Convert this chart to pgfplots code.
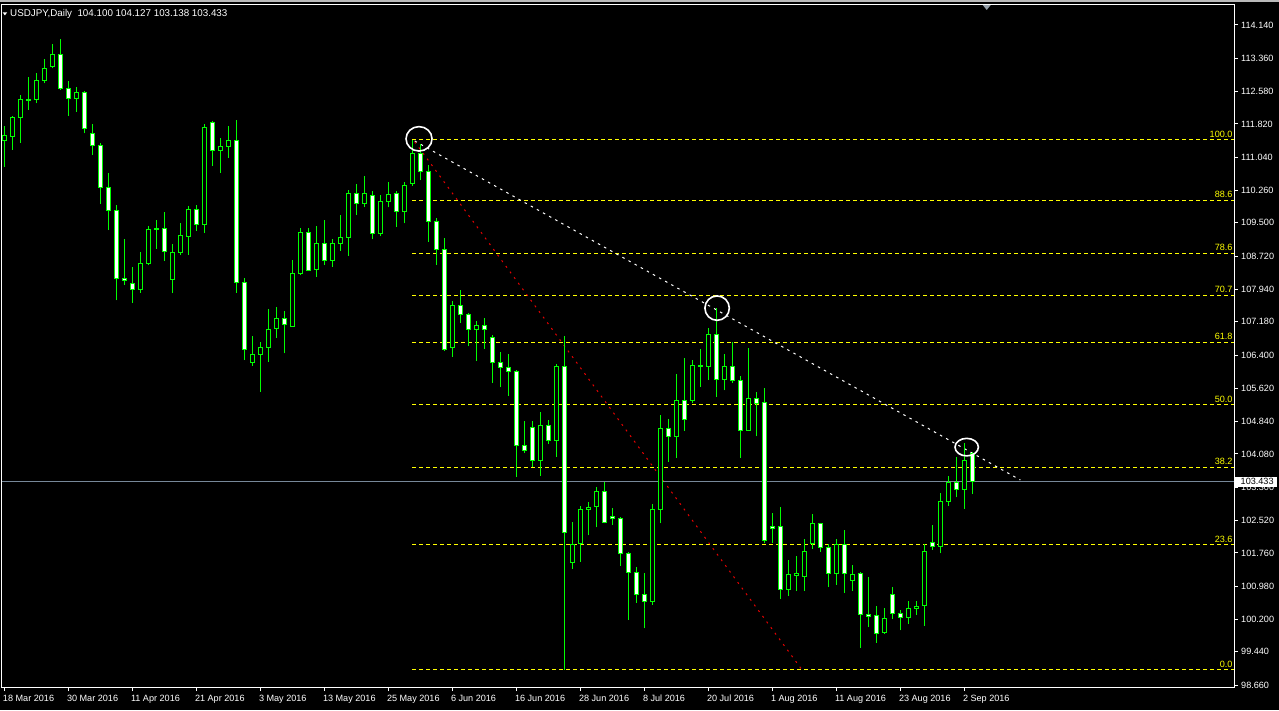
\documentclass[border=0pt]{standalone}
\usepackage{pgfplots}
\pgfplotsset{compat=1.18}
\usepackage{pgfplotstable}
\usepackage{fontspec}
\setmainfont{Liberation Sans}

\definecolor{candle}{RGB}{0,255,0}
\definecolor{bidline}{RGB}{119,136,153}
\definecolor{fibyellow}{RGB}{255,255,0}
\definecolor{markergray}{RGB}{150,160,170}
\definecolor{trendred}{RGB}{230,0,0}

% USDJPY daily bars: index, open, high, low, close
\pgfplotstableread{
i O H L C
0 111.44 111.77 110.82 111.55
1 111.52 112.01 111.21 111.98
2 111.98 112.50 111.38 112.40
3 112.38 112.91 112.15 112.39
4 112.40 113.01 112.30 112.84
5 112.84 113.34 112.77 113.12
6 113.17 113.70 113.12 113.45
7 113.45 113.81 112.62 112.66
8 112.65 112.83 112.01 112.42
9 112.42 112.69 112.11 112.56
10 112.56 112.59 111.60 111.72
11 111.60 111.82 111.09 111.32
12 111.32 111.37 109.95 110.33
13 110.33 110.66 109.33 109.79
14 109.79 109.92 107.68 108.20
15 108.20 109.12 108.04 108.14
16 108.08 108.47 107.63 107.94
17 107.94 108.82 107.86 108.55
18 108.55 109.43 108.50 109.35
19 109.35 109.57 108.89 109.36
20 109.37 109.75 108.61 108.83
21 108.18 109.00 107.85 108.81
22 108.81 109.49 108.75 109.21
23 109.18 109.90 108.75 109.82
24 109.82 109.92 109.31 109.47
25 109.46 111.81 109.27 111.74
26 111.86 111.89 110.83 111.20
27 111.19 111.49 110.68 111.29
28 111.29 111.77 111.03 111.44
29 111.44 111.91 107.86 108.11
30 108.11 108.20 106.28 106.52
31 106.22 106.85 106.14 106.42
32 106.42 106.70 105.54 106.58
33 106.57 107.47 106.24 107.00
34 107.02 107.52 106.81 107.26
35 107.26 107.43 106.44 107.12
36 107.07 108.63 107.07 108.32
37 108.31 109.38 108.27 109.28
38 109.28 109.38 108.37 108.39
39 108.40 109.43 108.24 109.02
40 109.02 109.57 108.51 108.62
41 108.62 109.12 108.47 109.02
42 109.02 109.68 108.85 109.16
43 109.16 110.27 108.73 110.19
44 110.19 110.41 109.68 109.96
45 109.96 110.60 109.86 110.19
46 110.15 110.25 109.11 109.25
47 109.25 110.15 109.18 110.01
48 110.00 110.46 109.86 110.17
49 110.19 110.25 109.41 109.76
50 109.76 110.46 109.49 110.38
51 110.43 111.45 110.37 111.13
52 111.13 111.36 110.50 110.70
53 110.70 110.86 109.06 109.54
54 109.53 109.61 108.51 108.88
55 108.88 109.14 106.50 106.53
56 106.57 107.67 106.36 107.56
57 107.56 107.93 107.16 107.35
58 107.35 107.39 106.60 107.00
59 107.00 107.20 106.27 107.10
60 107.09 107.28 106.55 107.00
61 106.82 106.87 105.75 106.23
62 106.23 106.46 105.64 106.11
63 106.11 106.43 105.45 106.02
64 106.02 106.05 103.55 104.27
65 104.27 104.85 104.10 104.17
66 104.70 104.85 103.77 103.93
67 103.93 105.06 103.57 104.75
68 104.75 104.88 104.32 104.40
69 104.40 106.19 104.02 106.14
70 106.14 106.85 99.02 102.24
71 101.53 102.49 101.39 101.96
72 101.98 102.86 101.55 102.77
73 102.77 102.95 102.17 102.83
74 102.85 103.31 102.36 103.21
75 103.21 103.43 102.45 102.48
76 102.62 102.81 102.41 102.57
77 102.57 102.59 101.46 101.75
78 101.75 101.77 100.19 101.30
79 101.30 101.42 100.59 100.79
80 100.79 101.28 99.99 100.61
81 100.62 102.91 100.54 102.78
82 102.78 104.99 102.45 104.68
83 104.68 104.89 103.90 104.50
84 104.50 105.96 103.98 105.34
85 105.34 106.32 104.63 104.89
86 105.34 106.28 105.28 106.15
87 106.15 106.54 105.66 106.14
88 106.13 107.04 105.82 106.89
89 106.89 107.50 105.42 105.83
90 105.83 106.43 105.57 106.14
91 106.14 106.71 105.75 105.81
92 105.80 105.91 103.99 104.64
93 104.64 106.56 104.64 105.38
94 105.38 105.54 104.49 105.27
95 105.29 105.62 101.98 102.05
96 102.38 102.70 102.00 102.32
97 102.37 102.83 100.69 100.91
98 100.91 101.59 100.76 101.26
99 101.22 101.69 100.87 101.27
100 101.20 102.08 100.87 101.80
101 101.98 102.67 101.85 102.45
102 102.45 102.47 101.79 101.89
103 101.89 101.97 100.97 101.28
104 101.28 102.09 101.01 101.96
105 101.96 102.30 100.83 101.28
106 101.11 101.48 100.87 101.26
107 101.28 101.32 99.54 100.32
108 100.32 101.19 100.03 100.27
109 100.28 100.51 99.65 99.87
110 99.89 100.46 99.86 100.22
111 100.79 100.96 100.22 100.34
112 100.34 100.42 99.94 100.25
113 100.25 100.63 100.09 100.46
114 100.46 100.63 100.30 100.51
115 100.52 101.96 100.05 101.80
116 102.01 102.41 101.83 101.92
117 101.92 103.16 101.75 102.96
118 102.96 103.57 102.87 103.41
119 103.41 104.00 103.06 103.25
120 103.25 104.33 102.80 103.92
121 104.100 104.127 103.138 103.433
}\candles

\pgfplotsset{
  chartframe/.style={
    at={(2pt,23pt)}, anchor=south west,
    scale only axis, width=1232pt, height=682pt,
    xmin=-0.2875, xmax=153.7125, ymin=98.6145, ymax=114.609,
  },
  fiblevel/.style={fibyellow, line width=0.9pt, dash pattern=on 4pt off 3pt},
}

\newcommand{\lblfont}{\fontsize{9.1}{10}\selectfont}

\begin{document}
\begin{tikzpicture}
\fill[black] (0,0) rectangle (1279pt,710pt);
\fill[gray!55] (0,708.3pt) rectangle (1279pt,710pt);
% chart-shift marker
\fill[markergray] (982.7pt,705pt) -- (990.7pt,705pt) -- (986.7pt,700pt) -- cycle;
% symbol header
\fill[white] (2.7pt,697.6pt) -- (7.1pt,697.6pt) -- (4.9pt,694.6pt) -- cycle;
\node[anchor=west, inner sep=0pt, white, font=\fontsize{9.8}{11}\selectfont]
  at (10pt,696pt) {USDJPY,Daily\ \ 104.100 104.127 103.138 103.433};

\begin{axis}[chartframe,
  clip mode=individual,
  axis line style={white, line width=1pt},
  tick style={white, line width=1pt},
  tick align=outside, major tick length=4pt,
  xtick pos=left, ytick pos=right,
  xticklabel pos=left, yticklabel pos=right,
  /pgf/number format/assume math mode=true,
  tick label style={white, font=\lblfont},
  xtick={0,8,...,120},
  xticklabels={18 Mar 2016,30 Mar 2016,11 Apr 2016,21 Apr 2016,3 May 2016,13 May 2016,25 May 2016,6 Jun 2016,16 Jun 2016,28 Jun 2016,8 Jul 2016,20 Jul 2016,1 Aug 2016,11 Aug 2016,23 Aug 2016,2 Sep 2016},
  xticklabel style={anchor=north west, inner sep=0pt, text height=6.6pt, text depth=0pt, xshift=-1.5pt, yshift=-3.5pt},
  ytick={114.14,113.36,112.58,111.82,111.04,110.26,109.5,108.72,107.94,107.18,106.4,105.62,104.84,104.08,103.3,102.52,101.76,100.98,100.2,99.44,98.66},
  yticklabels={114.140,113.360,112.580,111.820,111.040,110.260,109.500,108.720,107.940,107.180,106.400,105.620,104.840,104.080,103.300,102.520,101.760,100.980,100.200,99.440,98.660},
  yticklabel style={anchor=west, inner sep=0pt, xshift=3pt},
]
% Fibonacci retracement levels from the 30 May high (111.45) to the 24 Jun low (99.02)
\addplot[fiblevel] coordinates {(51,111.45) (153.7125,111.45)};
\addplot[fiblevel] coordinates {(51,110.033) (153.7125,110.033)};
\addplot[fiblevel] coordinates {(51,108.790) (153.7125,108.790)};
\addplot[fiblevel] coordinates {(51,107.808) (153.7125,107.808)};
\addplot[fiblevel] coordinates {(51,106.702) (153.7125,106.702)};
\addplot[fiblevel] coordinates {(51,105.235) (153.7125,105.235)};
\addplot[fiblevel] coordinates {(51,103.768) (153.7125,103.768)};
\addplot[fiblevel] coordinates {(51,101.953) (153.7125,101.953)};
\addplot[fiblevel] coordinates {(51,99.02) (153.7125,99.02)};
\foreach \lv/\txt in {111.45/100.0,110.033/88.6,108.790/78.6,107.808/70.7,106.702/61.8,105.235/50.0,103.768/38.2,101.953/23.6,99.02/0.0}{
  \edef\temp{\noexpand\node[anchor=south east, inner sep=0pt, text=fibyellow, font=\noexpand\lblfont, xshift=-1.3pt, yshift=2pt] at (axis cs:153.7125,\lv) {\txt};}
  \temp
}
% trend lines
\addplot[white, line width=1pt, dash pattern=on 2.5pt off 4.5pt] coordinates {(51.3,111.42) (127.0,103.47)};
\addplot[trendred, line width=1pt, dash pattern=on 2pt off 5pt] coordinates {(51.3,111.40) (99.7,99.02)};
% bid line
\addplot[bidline, line width=1pt] coordinates {(-0.2875,103.433) (153.7125,103.433)};
\coordinate (bidR) at (axis cs:153.7125,103.433);
% wicks
\addplot[draw=none, mark=none,
  error bars/.cd, y dir=plus, y explicit, error mark=none,
  error bar style={draw=candle, line width=1pt}]
  table[x=i, y=L, y error expr=\thisrow{H}-\thisrow{L}] {\candles};
\end{axis}

% candle bodies: hollow for rising days, white for falling days
\begin{axis}[chartframe, hide axis, ybar stacked, bar width=4pt]
\addplot[draw=none, fill=none] table[x=i, y expr={min(\thisrow{O},\thisrow{C})}] {\candles};
\addplot[draw=candle, fill=black, line width=1pt] table[x=i, y expr={max(\thisrow{C}-\thisrow{O},0)}] {\candles};
\addplot[draw=candle, fill=white, line width=1pt] table[x=i, y expr={max(\thisrow{O}-\thisrow{C},0)}] {\candles};
\end{axis}

% swing-point ellipses
\begin{axis}[chartframe, hide axis]
\addplot[white, line width=1.6pt, only marks, mark=o, mark size=13pt, mark options={yscale=0.94}] coordinates {(51.84,111.47)};
\addplot[white, line width=1.6pt, only marks, mark=o, mark size=12.2pt] coordinates {(89.1,107.50)};
\addplot[white, line width=1.6pt, only marks, mark=o, mark size=11.7pt, mark options={yscale=0.75}] coordinates {(120.3,104.24)};
\end{axis}

% current price tag
\fill[white] ([xshift=1pt,yshift=-5pt]bidR) rectangle ([xshift=43pt,yshift=5pt]bidR);
\node[anchor=west, inner sep=0pt, text=black, font=\lblfont] at ([xshift=6.5pt]bidR) {103.433};
\end{tikzpicture}
\end{document}
